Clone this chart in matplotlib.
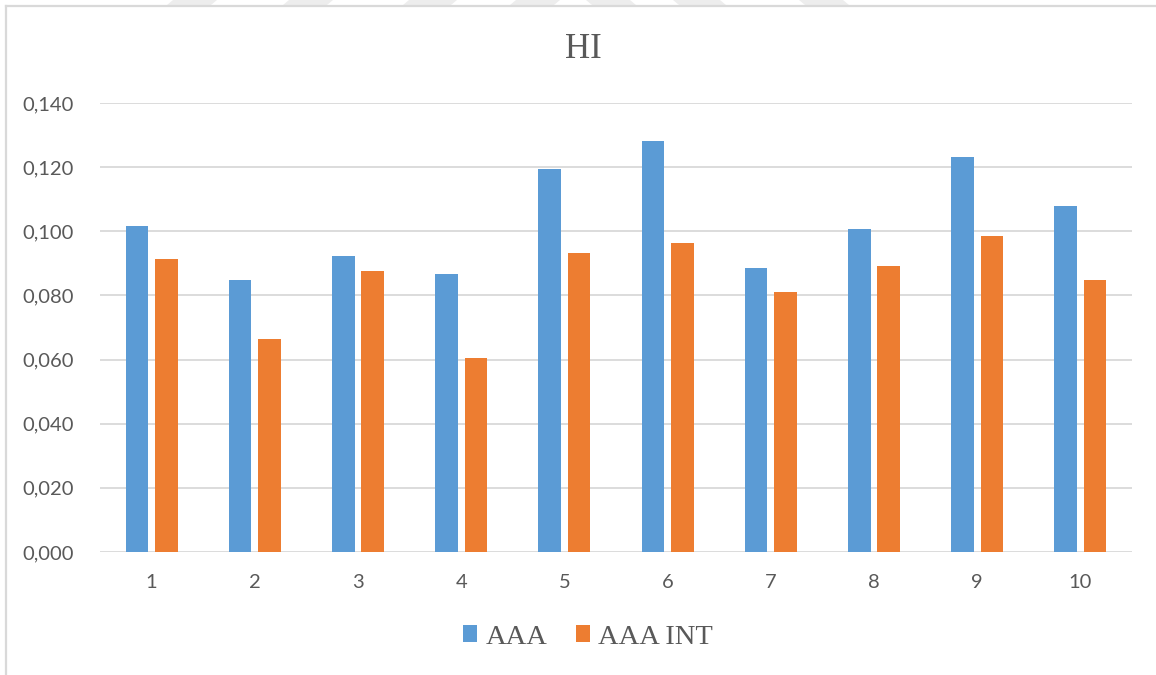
import matplotlib.pyplot as plt
from matplotlib.patches import Polygon
from matplotlib.lines import Line2D
import numpy as np

# HI values per sample
samples = ["1", "2", "3", "4", "5", "6", "7", "8", "9", "10"]
aaa = [0.1017, 0.0848, 0.0924, 0.0868, 0.1193, 0.1281, 0.0884, 0.1008, 0.1231, 0.1078]
aaa_int = [0.0913, 0.0663, 0.0876, 0.0604, 0.0932, 0.0962, 0.0812, 0.0892, 0.0984, 0.0848]
yticks = [0.000, 0.020, 0.040, 0.060, 0.080, 0.100, 0.120, 0.140]

BLUE = "#5B9BD5"
ORANGE = "#ED7D31"
TEXT = "#595959"
GRID = "#D9D9D9"

W, H = 1156, 675
fig = plt.figure(figsize=(W / 100, H / 100), dpi=100)
ax = fig.add_axes([100 / W, (H - 552) / H, 1032 / W, 449 / H])

x = np.arange(len(samples))
bw = 0.219
off = 0.142
ax.bar(x - off, aaa, bw, color=BLUE, label="AAA", zorder=3)
ax.bar(x + off, aaa_int, bw, color=ORANGE, label="AAA INT", zorder=3)

ax.set_xlim(-0.5, len(samples) - 0.5)
ax.set_ylim(0, 0.14)
ax.set_yticks(yticks)
ax.set_yticklabels([f"{v:.3f}".replace(".", ",") for v in yticks],
                   family="Lato", fontsize=14.5, color=TEXT)
ax.set_xticks(x)
ax.set_xticklabels(samples, family="Lato", fontsize=14.5, color=TEXT)
ax.tick_params(axis="both", length=0)
ax.tick_params(axis="y", pad=19)
ax.tick_params(axis="x", pad=16)
ax.grid(axis="y", color=GRID, linewidth=1.3, zorder=0)
for s in ax.spines.values():
    s.set_visible(False)

fig.text(583 / W, 1 - 50 / H, "HI", family="Liberation Serif", fontsize=25,
         color=TEXT, ha="center", va="center")

leg = fig.legend(loc="center", bbox_to_anchor=(588 / W, 1 - 637 / H), ncol=2,
                 frameon=False, prop={"family": "Liberation Serif", "size": 20.5},
                 handlelength=0.5, handleheight=0.5, handletextpad=0.28,
                 columnspacing=1.0, labelcolor=TEXT)

# chart frame (top and left edges)
fig.add_artist(Line2D([6 / W, 6 / W], [0, 1 - 6 / H], transform=fig.transFigure,
                      color=GRID, linewidth=1.6))
fig.add_artist(Line2D([6 / W, 1], [1 - 6 / H, 1 - 6 / H], transform=fig.transFigure,
                      color=GRID, linewidth=1.6))

# faint shapes peeking above the frame
for x0, x1, d in [(167, 217, 1), (283, 333, 1), (403, 457, 1), (510, 560, 1),
                  (586, 636, -1), (673, 726, -1), (799, 849, -1)]:
    if d > 0:
        pts = [(x0, 5), (x1 - 6, 5), (x1, 0), (x0 + 6, 0)]
    else:
        pts = [(x0 + 6, 5), (x1, 5), (x1 - 6, 0), (x0, 0)]
    pts = [(px / W, 1 - py / H) for px, py in pts]
    fig.add_artist(Polygon(pts, closed=True, transform=fig.transFigure,
                           facecolor="#EDEDED", edgecolor="none"))

fig.savefig("out.png", dpi=100)
